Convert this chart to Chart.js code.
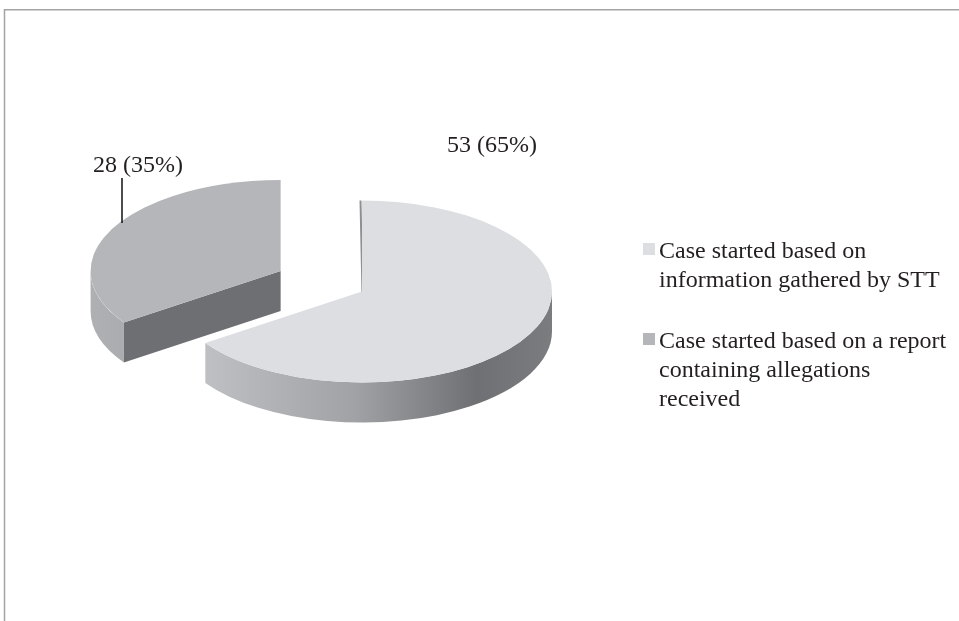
<!DOCTYPE html>
<html>
<head>
<meta charset="utf-8">
<script src="https://cdn.jsdelivr.net/npm/chart.js@4.4.1/dist/chart.umd.min.js"></script>
<style>
  html, body { margin: 0; padding: 0; background: #fff; }
  canvas { display: block; }
</style>
</head>
<body>
<canvas id="pieChart" width="959" height="621"></canvas>
<script>
// legend text, one entry per line
const categories = [
  ['Case started based on', 'information gathered by STT'],
  ['Case started based on a report', 'containing allegations', 'received']
];
const caseCounts = [53, 28];
const topColors = ['#dcdee1', '#b5b6b9'];

const FONT = '24px "Liberation Serif", "Times New Roman", serif';
const TEXT_COLOR = '#231f20';

// --- 3D look: squash the pie, add side walls, pull slices apart ---
const pie3d = {
  id: 'pie3d',
  beforeDatasetsDraw(chart, args, opts) {
    const ctx = chart.ctx;
    const meta = chart.getDatasetMeta(0);
    const k = opts.tilt, depth = opts.depth;

    const slices = meta.data.map((arc, i) => {
      const p = arc.getProps(['x', 'y', 'startAngle', 'endAngle', 'outerRadius'], true);
      const mid = (p.startAngle + p.endAngle) / 2;
      const e = opts.explode[i] || 0;
      return {
        i, sa: p.startAngle, ea: p.endAngle,
        ox: p.x + Math.cos(mid) * e,
        oy: p.y + Math.sin(mid) * e * k,
        rx: p.outerRadius, ry: p.outerRadius * k,
        color: arc.options.backgroundColor
      };
    });
    // back slices first
    slices.sort((a, b) => a.oy - b.oy);

    slices.forEach(s => {
      const rim = t => [s.ox + s.rx * Math.cos(t), s.oy + s.ry * Math.sin(t)];

      // outer wall, only the front half of the ellipse shows
      const ranges = [];
      for (let n = -1; n <= 1; n++) {
        const lo = Math.max(s.sa, 2 * Math.PI * n);
        const hi = Math.min(s.ea, 2 * Math.PI * n + Math.PI);
        if (hi > lo) ranges.push([lo, hi]);
      }
      const grad = ctx.createLinearGradient(s.ox - s.rx, 0, s.ox + s.rx, 0);
      opts.wallStops[s.i].forEach(([pos, c]) => grad.addColorStop(pos, c));
      ranges.forEach(([lo, hi]) => {
        ctx.beginPath();
        ctx.ellipse(s.ox, s.oy, s.rx, s.ry, 0, lo, hi);
        ctx.ellipse(s.ox, s.oy + depth, s.rx, s.ry, 0, hi, lo, true);
        ctx.closePath();
        ctx.fillStyle = grad;
        ctx.fill();
      });

      // radial cut faces facing the viewer
      const face = t => {
        const [px, py] = rim(t);
        ctx.beginPath();
        ctx.moveTo(s.ox, s.oy);
        ctx.lineTo(px, py);
        ctx.lineTo(px, py + depth);
        ctx.lineTo(s.ox, s.oy + depth);
        ctx.closePath();
        ctx.fillStyle = opts.faceColors[s.i];
        ctx.fill();
      };
      if (Math.cos(s.sa) < -1e-6) face(s.sa);
      if (Math.cos(s.ea) > 1e-6) face(s.ea);

      // edge-on start face still shows as a thin sliver
      if (Math.abs(Math.cos(s.sa)) < 1e-6) {
        const [px, py] = rim(s.sa);
        ctx.beginPath();
        ctx.moveTo(px - 1.5, py);
        ctx.lineTo(s.ox + 0.5, s.oy + 2);
        ctx.lineWidth = 2;
        ctx.strokeStyle = '#8e8f92';
        ctx.stroke();
      }

      // top face
      ctx.beginPath();
      ctx.moveTo(s.ox, s.oy);
      ctx.ellipse(s.ox, s.oy, s.rx, s.ry, 0, s.sa, s.ea);
      ctx.closePath();
      ctx.fillStyle = s.color;
      ctx.fill();
    });
    return false;
  }
};

// --- frame, value labels and the wrapped legend ---
const decorations = {
  id: 'decorations',
  beforeDraw(chart) {
    const ctx = chart.ctx;
    ctx.save();
    ctx.strokeStyle = '#a3a3a3';
    ctx.lineWidth = 1.5;
    ctx.beginPath();
    ctx.moveTo(4.5, chart.height);
    ctx.lineTo(4.5, 9.75);
    ctx.lineTo(chart.width, 9.75);
    ctx.stroke();
    ctx.restore();
  },
  afterDraw(chart, args, opts) {
    const ctx = chart.ctx;
    const values = chart.data.datasets[0].data;
    const total = values.reduce((a, b) => a + b, 0);
    ctx.save();
    ctx.font = FONT;
    ctx.fillStyle = TEXT_COLOR;
    ctx.textBaseline = 'alphabetic';
    ctx.textAlign = 'left';

    values.forEach((v, i) => {
      const [x, y] = opts.labelPos[i];
      ctx.fillText(v + ' (' + Math.round(v / total * 100) + '%)', x, y);
    });
    opts.leaders.forEach(([x, y0, y1]) => {
      ctx.beginPath();
      ctx.moveTo(x, y0);
      ctx.lineTo(x, y1);
      ctx.lineWidth = 1.5;
      ctx.strokeStyle = '#111';
      ctx.stroke();
    });

    // legend
    const lg = opts.legend;
    let y = lg.top;
    chart.data.labels.forEach((lines, i) => {
      ctx.fillStyle = chart.data.datasets[0].backgroundColor[i];
      ctx.fillRect(lg.x, y, lg.box, lg.box);
      ctx.fillStyle = TEXT_COLOR;
      lines.forEach((line, j) => {
        ctx.fillText(line, lg.x + lg.box + 4, y + 15 + j * lg.lineHeight);
      });
      y += lines.length * lg.lineHeight + lg.gap;
    });
    ctx.restore();
  }
};

new Chart(document.getElementById('pieChart'), {
  type: 'pie',
  data: {
    labels: categories,
    datasets: [{
      data: caseCounts,
      backgroundColor: topColors,
      borderWidth: 0
    }]
  },
  options: {
    responsive: false,
    animation: false,
    events: [],
    layout: { padding: { left: 172, right: 407, top: 101, bottom: 139 } },
    plugins: {
      legend: { display: false },
      tooltip: { enabled: false },
      pie3d: {
        tilt: 0.479,
        depth: 40,
        explode: [0, 92],
        faceColors: ['#8e8f92', '#6e6f72'],
        wallStops: [
          [[0, '#c6c7ca'], [0.2, '#b6b7ba'], [0.48, '#a1a2a5'], [0.8, '#6f7073'], [1, '#7b7c7f']],
          [[0, '#afb0b3'], [0.25, '#a4a5a8'], [1, '#707174']]
        ]
      },
      decorations: {
        labelPos: [[447, 152], [93, 172]],
        leaders: [[122, 178, 223]],
        legend: { x: 643, top: 243, box: 12, lineHeight: 29, gap: 32 }
      }
    }
  },
  plugins: [pie3d, decorations]
});
</script>
</body>
</html>
